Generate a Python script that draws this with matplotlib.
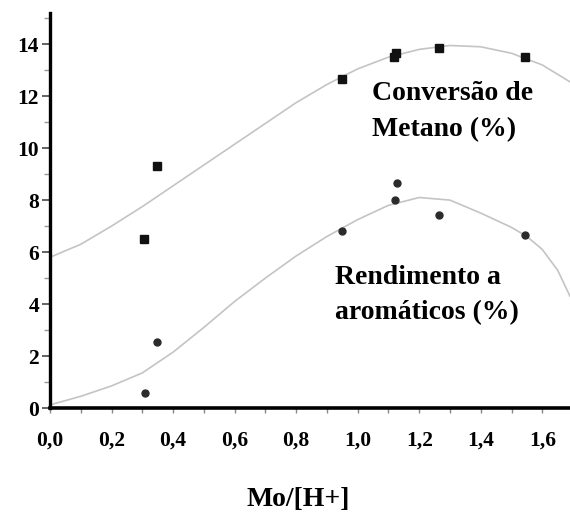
import numpy as np
import matplotlib
matplotlib.use("Agg")
import matplotlib.pyplot as plt
from matplotlib.ticker import MultipleLocator, FuncFormatter

# pontos experimentais: conversão de metano (%)
conv_x = [0.305, 0.347, 0.948, 1.118, 1.126, 1.263, 1.545]
conv_y = [6.5, 9.3, 12.65, 13.5, 13.65, 13.85, 13.5]

# pontos experimentais: rendimento a aromáticos (%)
rend_x = [0.308, 0.347, 0.948, 1.127, 1.120, 1.263, 1.545]
rend_y = [0.58, 2.54, 6.8, 8.65, 8.0, 7.42, 6.65]

# curvas de tendência (lidas ao longo do traçado)
conv_curve_x = [0.0, 0.1, 0.2, 0.3, 0.4, 0.5, 0.6, 0.7, 0.8, 0.9, 1.0,
                1.1, 1.2, 1.3, 1.4, 1.5, 1.6, 1.69]
conv_curve_y = [5.8, 6.3, 7.0, 7.75, 8.55, 9.35, 10.15, 10.95, 11.75, 12.45, 13.05,
                13.5, 13.8, 13.95, 13.9, 13.65, 13.2, 12.55]
rend_curve_x = [0.0, 0.1, 0.2, 0.3, 0.4, 0.5, 0.6, 0.7, 0.8, 0.9, 1.0,
                1.1, 1.2, 1.3, 1.4, 1.5, 1.55, 1.6, 1.65, 1.69]
rend_curve_y = [0.12, 0.45, 0.85, 1.35, 2.15, 3.1, 4.1, 5.0, 5.85, 6.6, 7.25,
                7.8, 8.1, 8.0, 7.5, 6.95, 6.6, 6.1, 5.3, 4.3]

plt.rcParams['font.family'] = ['Liberation Serif', 'DejaVu Serif']
plt.rcParams['font.weight'] = 'bold'

fig = plt.figure(figsize=(5.7, 5.15), dpi=100)
ax = fig.add_axes([50 / 570, (515 - 408) / 515, 520 / 570, (408 - 13) / 515])

ax.plot(conv_curve_x, conv_curve_y, color='#c4c4c4', lw=1.2, zorder=1)
ax.plot(rend_curve_x, rend_curve_y, color='#c4c4c4', lw=1.2, zorder=1)

ax.plot(conv_x, conv_y, 's', color='#111111', ms=5.2, zorder=3)
ax.plot(rend_x, rend_y, 'o', color='#2b2b2b', ms=5.0, zorder=3)

ax.text(1.045, 12.6, 'Conversão de\nMetano (%)', fontsize=20, fontweight='bold',
        ha='left', va='top', linespacing=1.6)
ax.text(0.925, 5.5, 'Rendimento a\naromáticos (%)', fontsize=20, fontweight='bold',
        ha='left', va='top', linespacing=1.55)

ax.set_xlim(0, 1.69)
ax.set_ylim(0, 15.2)

for side in ['top', 'right']:
    ax.spines[side].set_visible(False)
ax.spines['left'].set_linewidth(2.4)
ax.spines['bottom'].set_linewidth(2.6)

ax.xaxis.set_major_locator(MultipleLocator(0.2))
ax.xaxis.set_minor_locator(MultipleLocator(0.1))
ax.yaxis.set_major_locator(MultipleLocator(2))
ax.yaxis.set_minor_locator(MultipleLocator(1))
ax.xaxis.set_major_formatter(FuncFormatter(lambda v, p: f'{v:.1f}'.replace('.', ',')))
ax.yaxis.set_major_formatter(FuncFormatter(lambda v, p: f'{v:.0f}'))

ax.tick_params(axis='x', which='both', length=3.5, width=1.0, color='#888888',
               pad=13, labelsize=15.5)
ax.tick_params(axis='y', which='major', length=6, width=1.3, color='#555555',
               pad=2, labelsize=15.5)
ax.tick_params(axis='y', which='minor', length=4, width=1.0, color='#999999')

fig.text(298 / 570, 1 - 500 / 515, 'Mo/[H+]', fontsize=20, fontweight='bold',
         ha='center', va='center')

fig.savefig('out.png', dpi=100, facecolor='white')
